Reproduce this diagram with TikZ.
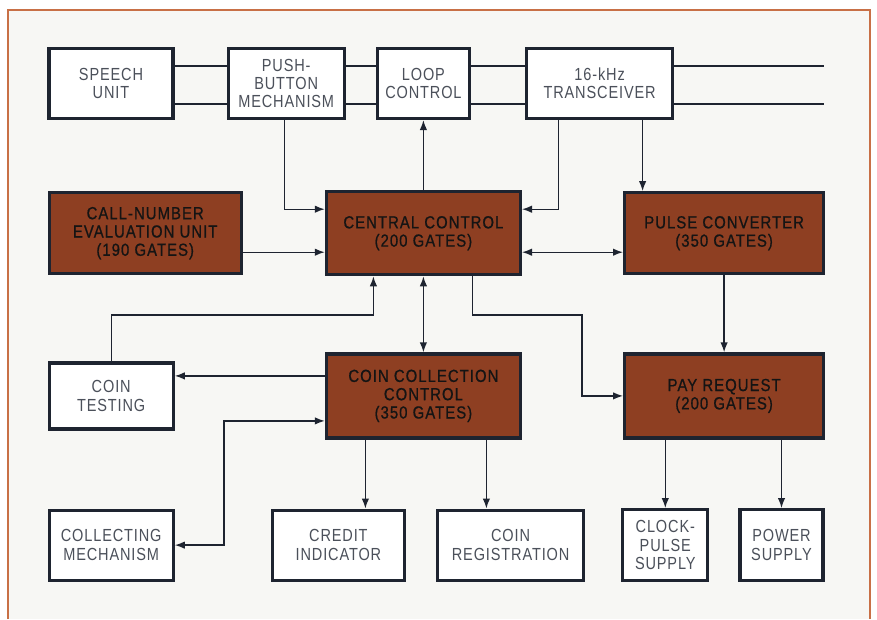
\documentclass[tikz,border=0pt]{standalone}
\usepackage{fontspec}
\setmainfont{Liberation Sans}[FakeStretch=0.83,LetterSpace=5]
\newfontfamily\gatefont{Liberation Sans}[FakeStretch=0.85,LetterSpace=6,FakeBold=0.8]
\usepackage{tikz}
\usetikzlibrary{arrows.meta,positioning}
\definecolor{framebrown}{RGB}{200,112,70}
\definecolor{gatebrown}{RGB}{142,63,34}
\definecolor{inkblue}{RGB}{30,36,48}
\definecolor{paper}{RGB}{247,247,244}
\tikzset{
  unitbox/.style={
    draw=inkblue,line width=3.2pt,align=center,inner sep=2pt,
    font=\fontsize{17.5}{18.3}\selectfont
  },
  plainbox/.style={unitbox,fill=white,text=inkblue!80},
  gatebox/.style={unitbox,fill=gatebrown,text=black!92,font=\fontsize{17.5}{18.3}\gatefont},
  signal/.style={draw=inkblue,line width=1.4pt},
  sigarrow/.style={signal,-{Latex[length=10pt,width=7.5pt]}},
  sigboth/.style={signal,{Latex[length=10pt,width=7.5pt]}-{Latex[length=10pt,width=7.5pt]}}
}
\begin{document}
\begin{tikzpicture}[x=1pt,y=-1pt,node distance=30pt]
  \useasboundingbox (0,0) rectangle (877,619);
  \fill[paper] (8,10) rectangle (870,619);
  \draw[framebrown,line width=2pt] (8,619) -- (8,10) -- (870,10) -- (870,619);
  % top row
  \node[plainbox,minimum width=124pt,minimum height=70pt] (speech) at (111,83.5) {SPEECH\\UNIT};
  \node[plainbox,minimum width=116pt,minimum height=70pt,right=52pt of speech] (push) {PUSH-\\BUTTON\\MECHANISM};
  \node[plainbox,minimum width=92pt,minimum height=70pt,right=30pt of push] (loop) {LOOP\\CONTROL};
  \node[plainbox,minimum width=146pt,minimum height=70pt,right=54pt of loop] (xcvr) {16-kHz\\TRANSCEIVER};
  % gate blocks
  \node[gatebox,minimum width=194pt,minimum height=83pt,below=70pt of loop] (central) {CENTRAL CONTROL\\(200 GATES)};
  \node[gatebox,minimum width=192pt,minimum height=81pt,left=82pt of central] (callnum) {CALL-NUMBER\\EVALUATION UNIT\\(190 GATES)};
  \node[gatebox,minimum width=199pt,minimum height=81pt,right=101pt of central] (pulse) {PULSE CONVERTER\\(350 GATES)};
  \node[gatebox,minimum width=194pt,minimum height=84pt,below=76pt of central] (coll) {COIN COLLECTION\\CONTROL\\(350 GATES)};
  \node[gatebox,minimum width=199pt,minimum height=84pt,below=77pt of pulse] (pay) {PAY REQUEST\\(200 GATES)};
  \node[plainbox,minimum width=124pt,minimum height=66pt,left=150pt of coll] (testing) {COIN\\TESTING};
  % bottom row
  \node[plainbox,minimum width=124pt,minimum height=70pt,below=78pt of testing] (mech) {COLLECTING\\MECHANISM};
  \node[plainbox,minimum width=132pt,minimum height=70pt,right=96pt of mech] (credit) {CREDIT\\INDICATOR};
  \node[plainbox,minimum width=146pt,minimum height=70pt,right=30pt of credit] (reg) {COIN\\REGISTRATION};
  \node[plainbox,minimum width=85pt,minimum height=71pt,right=36pt of reg] (clock) {CLOCK-\\PULSE\\SUPPLY};
  \node[plainbox,minimum width=83pt,minimum height=71pt,right=29pt of clock] (power) {POWER\\SUPPLY};
  \coordinate (wireup) at (824,66);
  \coordinate (wiredn) at (824,104);
  \coordinate (midrow) at (0,315);
  \coordinate (payjog) at (582,0);
  \coordinate (mechjog) at (224,0);
  \foreach \a/\b in {speech/push,push/loop,loop/xcvr}{
    \draw[signal] (\a.east |- wireup) -- (\b.west |- wireup);
    \draw[signal] (\a.east |- wiredn) -- (\b.west |- wiredn);
  }
  \draw[signal] (xcvr.east |- wireup) -- (wireup);
  \draw[signal] (xcvr.east |- wiredn) -- (wiredn);
  \draw[sigarrow] ([xshift=-2pt]push.south) |- ([yshift=24pt]central.west);
  \draw[sigarrow] ([yshift=-19pt]callnum.east) -- ([yshift=-19pt]central.west);
  \draw[sigarrow] (central.north) -- (central.north |- loop.south);
  \draw[sigarrow] ([xshift=-41pt]xcvr.south) |- ([yshift=24pt]central.east);
  \coordinate (xcvrout) at ([xshift=43pt]xcvr.south);
  \draw[sigarrow] (xcvrout) -- (xcvrout |- pulse.north);
  \draw[sigboth] ([yshift=-19pt]central.east) -- ([yshift=-19pt]pulse.west);
  \draw[sigboth] (central.south) -- (coll.north);
  \draw[sigarrow] (pulse.south) -- (pay.north);
  \coordinate (testret) at ([xshift=-50pt]central.south);
  \draw[sigarrow] (testing.north) |- (testret |- midrow) -- (testret);
  \coordinate (payout) at ([xshift=49pt]central.south);
  \draw[sigarrow] (payout) -- (payout |- midrow) -| (payjog |- pay.west) -- (pay.west);
  \coordinate (testout) at ([yshift=20pt]coll.west);
  \draw[sigarrow] (testout) -- (testout -| testing.east);
  \coordinate (mechin) at ([yshift=-25pt]coll.west);
  \draw[sigboth] (mech.east) -| (mechjog |- mechin) -- (mechin);
  \coordinate (creditout) at ([xshift=-58pt]coll.south);
  \draw[sigarrow] (creditout) -- (creditout |- credit.north);
  \coordinate (regout) at ([xshift=63pt]coll.south);
  \draw[sigarrow] (regout) -- (regout |- reg.north);
  \draw[sigarrow] (pay.south -| clock.north) -- (clock.north);
  \draw[sigarrow] (pay.south -| power.north) -- (power.north);
\end{tikzpicture}
\end{document}
